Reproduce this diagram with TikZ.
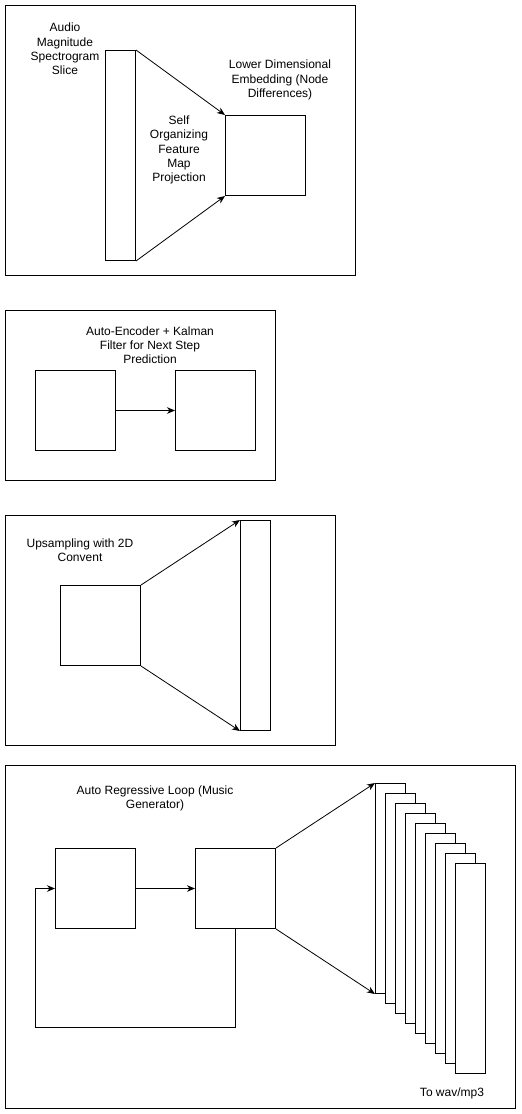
\documentclass[tikz,border=0pt]{standalone}
\usepackage{fontspec}
\setmainfont{Liberation Sans}
\usetikzlibrary{arrows.meta}
\begin{document}
\begin{tikzpicture}[x=1pt,y=-1pt,
  every node/.style={font=\fontsize{12}{14.2}\selectfont},
  panel/.style={draw,line width=1pt},
  box/.style={draw,line width=1pt,fill=white,anchor=north west,inner sep=0pt},
  lbl/.style={align=center,inner sep=0pt},
  arr/.style={line width=0.8pt,-{Stealth[length=8pt,width=6.5pt,inset=2.5pt]}},
  ln/.style={line width=1pt}]
\useasboundingbox (0,0) rectangle (522,1114);
% panels
\draw[panel] (5,5) rectangle (355,275);
\draw[panel] (5,310) rectangle (275,480);
\draw[panel] (5,515) rectangle (335,745);
\draw[panel] (5,765) rectangle (515,1108);

% panel 1
\node[box,minimum width=30,minimum height=210] (slice) at (105,50) {};
\node[box,minimum width=80,minimum height=80] (emb) at (225,115) {};
\draw[arr] (slice.north east) -- (emb.north west);
\draw[arr] (slice.south east) -- (emb.south west);
\node[lbl] (t1) at (65,49) {Audio\\Magnitude\\Spectrogram\\Slice};
\node[lbl] (t2) at (179,150) {Self\\Organizing\\Feature\\Map\\Projection};
\node[lbl] (t3) at (280,80) {Lower Dimensional\\Embedding (Node\\Differences)};

% panel 2
\node[box,minimum width=80,minimum height=80] (ae) at (35,370) {};
\node[box,minimum width=80,minimum height=80] (kf) at (175,370) {};
\draw[arr] (ae.east) -- (kf.west);
\node[lbl] (t4) at (150,345) {Auto-Encoder + Kalman\\Filter for Next Step\\Prediction};

% panel 3
\node[box,minimum width=80,minimum height=80] (up) at (60,585) {};
\node[box,minimum width=30,minimum height=210] (out) at (240,520) {};
\draw[arr] (up.north east) -- (out.north west);
\draw[arr] (up.south east) -- (out.south west);
\node[lbl] (t5) at (80,550) {Upsampling with 2D\\Convent};

% panel 4
\node[box,minimum width=80,minimum height=80] (gin) at (55,848) {};
\node[box,minimum width=80,minimum height=80] (gmid) at (195,848) {};
\draw[arr] (gin.east) -- (gmid.west);
\coordinate (lb) at (35,1027);
\draw[arr] (gmid.south) |- (lb) |- (gin.west);
\foreach \i in {0,...,8}{
  \node[box,minimum width=30,minimum height=210] (s\i) at (375+10*\i,783+10*\i) {};
}
\draw[arr] (gmid.north east) -- (s0.north west);
\draw[arr] (gmid.south east) -- (s0.south west);
\node[lbl] (t6) at (155,798) {Auto Regressive Loop (Music\\Generator)};
\node[lbl] (t7) at (452,1093) {To wav/mp3};
\end{tikzpicture}
\end{document}
